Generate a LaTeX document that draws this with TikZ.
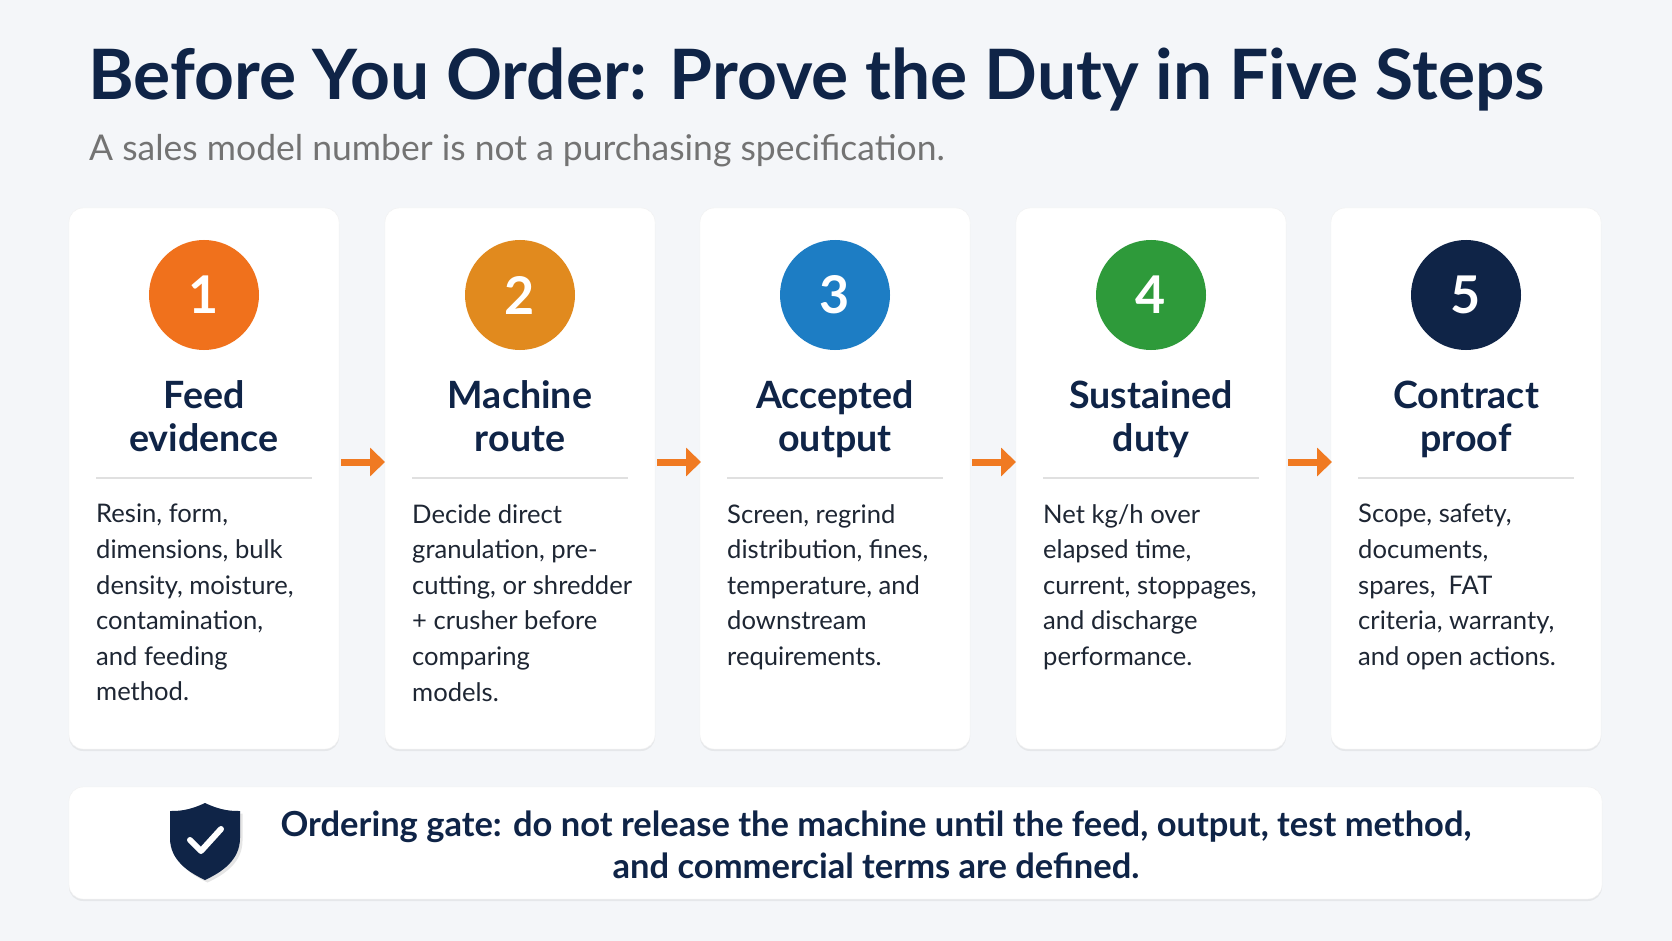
\documentclass[tikz,border=0pt]{standalone}
\usepackage{fontspec}
\setmainfont{Lato}
\usetikzlibrary{shadows,arrows.meta}
\definecolor{navy}{HTML}{0F2447}
\definecolor{bg}{HTML}{F4F6F9}
\definecolor{c1}{HTML}{F0711C}
\definecolor{c2}{HTML}{E18A1E}
\definecolor{c3}{HTML}{1D7DC4}
\definecolor{c4}{HTML}{2E9A3A}
\definecolor{c5}{HTML}{0F2447}
\definecolor{arr}{HTML}{F07A22}
\definecolor{txt}{HTML}{1E2633}
\begin{document}
\begin{tikzpicture}[x=1pt,y=-1pt,
 card/.style={fill=white,rounded corners=14pt,draw=black!6,drop shadow={opacity=0.12,shadow xshift=0pt,shadow yshift=-2pt}},
 num/.style={circle,minimum size=110pt,inner sep=0pt,text=white,font=\fontsize{52}{52}\selectfont\bfseries},
 ttl/.style={align=center,text=navy,font=\fontsize{37.6}{43}\selectfont\bfseries},
 body/.style={anchor=north west,align=left,text=txt,font=\fontsize{25.6}{35.6}\selectfont,inner sep=0pt},
 sep/.style={draw=black!12,line width=2pt},
 flowarr/.style={-{Triangle[length=15pt,width=28pt]},draw=arr,line width=7pt}]
\fill[bg] (0,0) rectangle (1672,941);
\useasboundingbox (0,0) rectangle (1672,941);
\node[anchor=west,text=navy,font=\fontsize{69.5}{69.5}\selectfont\bfseries,inner sep=0pt] (title) at (88,80) {Before You Order: Prove the Duty in Five Steps};
\node[anchor=west,text=black!55,font=\fontsize{35.5}{35.5}\selectfont,inner sep=0pt] (sub) at (89,151) {A sales model number is not a purchasing specification.};
\foreach \i/\cx/\col/\t/\b in {
 1/204/c1/{Feed\\evidence}/{Resin, form,\\dimensions, bulk\\density, moisture,\\contamination,\\and feeding\\method.},
 2/520/c2/{Machine\\route}/{Decide direct\\granulation, pre-\\cutting, or shredder\\+ crusher before\\comparing\\models.},
 3/835/c3/{Accepted\\output}/{Screen, regrind\\distribution, fines,\\temperature, and\\downstream\\requirements.},
 4/1151/c4/{Sustained\\duty}/{Net kg/h over\\elapsed time,\\current, stoppages,\\and discharge\\performance.},
 5/1466/c5/{Contract\\proof}/{Scope, safety,\\documents,\\spares,~ FAT\\criteria, warranty,\\and open actions.}}{
 \path[card] (\cx-135,208) rectangle (\cx+135,749);
 \node[num,fill=\col] (n\i) at (\cx,295) {\i};
 \node[ttl] (t\i) at (\cx,421) {\strut\t\strut};
 \draw[sep] (\cx-108,478) -- (\cx+108,478);
 \node[body] (b\i) at (\cx-108,504) {\b};
}
\foreach \i/\cx in {1/341,2/657,3/972,4/1288}{
 \coordinate (a\i) at (\cx,462); \coordinate (e\i) at (\cx+44,462);
 \draw[flowarr] (a\i) -- (e\i);
}
\path[card] (69,787) rectangle (1602,899);
\node[text=navy,font=\fontsize{34.5}{42}\selectfont\bfseries,align=center] (gate) at (876,845) {Ordering gate: do not release the machine until the feed, output, test method,\\and commercial terms are defined.};
\node (shield) at (205,840) {};
\fill[navy,drop shadow={opacity=0.2}] (205,803) .. controls (222,811) and (232,811) .. (240,811) -- (240,838) .. controls (240,860) and (222,872) .. (205,880) .. controls (188,872) and (170,860) .. (170,838) -- (170,811) .. controls (178,811) and (188,811) .. (205,803) -- cycle;
\draw[white,line width=6pt,line cap=round,line join=round] (190,840) -- (201,851) -- (221,829);
\end{tikzpicture}
\end{document}
